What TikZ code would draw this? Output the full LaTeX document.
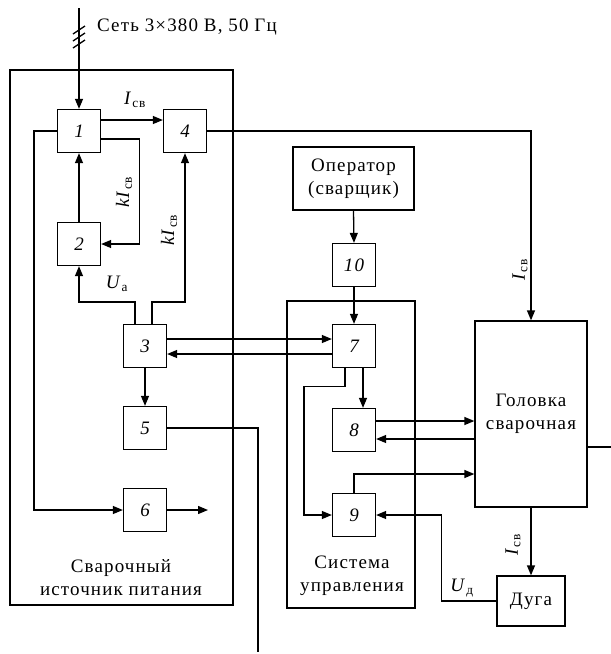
\documentclass[tikz,border=0pt]{standalone}
\usepackage{fontspec}
\setmainfont[LetterSpace=6]{Liberation Serif}
\usetikzlibrary{arrows.meta}

\newcommand{\txtsize}{\fontsize{19}{23}\selectfont}
\tikzset{
  blk/.style={draw, line width=1.3pt, minimum width=43pt, minimum height=43pt,
    inner sep=0pt, font=\txtsize\itshape},
  grp/.style={draw, line width=1.3pt},
  conn/.style={line width=1.3pt},
  arr/.style={conn, -{Triangle[length=10pt,width=8pt]}},
  lbl/.style={inner sep=1pt},
}
\newcommand{\isv}{\textit{I}\textsubscript{св}}
\newcommand{\kisv}{\textit{kI}\textsubscript{св}}

\begin{document}
\begin{tikzpicture}[x=1pt,y=-1pt,font=\txtsize]
      \useasboundingbox[fill=white] (0,0) rectangle (611,654);

      % GROUPS
      \draw[grp] (10,70) rectangle (233,605);
      \draw[grp] (287,301) rectangle (415,608);

      % BLOCKS
      \node[blk] (b1)  at (79,131)  {1};
      \node[blk] (b4)  at (185,131) {4};
      \node[blk] (b2)  at (79,244)  {2};
      \node[blk] (b3)  at (145,346) {3};
      \node[blk] (b5)  at (145,428) {5};
      \node[blk] (b6)  at (145,510) {6};
      \node[blk] (b10) at (354,265) {10};
      \node[blk] (b7)  at (354,346) {7};
      \node[blk] (b8)  at (354,430) {8};
      \node[blk] (b9)  at (354,515) {9};

      \node[grp, minimum width=121pt, minimum height=63pt, align=center,
        inner sep=0pt] (op) at (353.5,178.5) {Оператор\\(сварщик)};
      \node[grp, minimum width=112pt, minimum height=186pt, align=center,
        inner sep=0pt] (head) at (531,414) {Головка\\сварочная};
      \node[grp, minimum width=68pt, minimum height=50pt,
        inner sep=0pt] (arc) at (531,601) {Дуга};

      % free ends
      \coordinate (net)   at (79,8);
      \coordinate (out6)  at (208,510);
      \coordinate (out5)  at (258,652);
      \coordinate (hout)  at (611,447);

      % ARROWS
      \draw[arr] (net) -- (b1.north);
      \foreach \yy in {30,37,44}
        \draw[conn] (73,\yy+4) -- (85,\yy-4);

      \draw[arr] ([yshift=11pt]b1.east) -- ([yshift=11pt]b4.west);
      \draw[arr] ([yshift=-8pt]b1.east) -- ++(38,0) |- (b2.east);
      \draw[arr] (b2.north) -- (b1.south);
      \draw[arr] ([xshift=-10pt]b3.north) -- ++(0,-22) -| (b2.south);
      \draw[arr] ([xshift=7pt]b3.north) -- ++(0,-22) -| (b4.south);
      \draw[arr] (b1.west) -- ++(-23,0) |- (b6.west);
      \draw[arr] (b6.east) -- (out6);
      \draw[arr] (b3.south) -- (b5.north);
      \draw[conn] (b5.east) -| (out5);

      \draw[arr] (b4.east) -| (head.north);
      \draw[arr] ([yshift=7pt]b3.east) -- ([yshift=7pt]b7.west);
      \draw[arr] ([yshift=-8pt]b7.west) -- ([yshift=-8pt]b3.east);

      \draw[arr] (op.south) -- (b10.north);
      \draw[arr] (b10.south) -- (b7.north);
      \draw[arr] ([xshift=9pt]b7.south) -- ([xshift=9pt]b8.north);
      \draw[arr] ([xshift=-9pt]b7.south) -- ++(0,18) -- ++(-41,0) |- (b9.west);

      \draw[arr] ([yshift=9pt]b8.east) -- ([yshift=-7pt]head.west);
      \draw[arr] ([yshift=-25pt]head.west) -- ([yshift=-9pt]b8.east);
      \draw[arr] (b9.north) |- ([yshift=-60pt]head.west);
      \draw[arr] (arc.west) -- ++(-55,0) |- (b9.east);
      \draw[arr] (head.south) -- (arc.north);
      \draw[conn] ([yshift=-33pt]head.east) -- (hout);

      % NOTES
      \node[lbl, anchor=west] (tnet) at (96,27) {Сеть 3×380 В, 50 Гц};
      \node[lbl] (t1) at (135,100) {\isv};
      \node[lbl, rotate=90] (t2) at (124,192) {\kisv};
      \node[lbl, rotate=90] (t3) at (169,230) {\kisv};
      \node[lbl] (t4) at (117,284) {\textit{U}\textsubscript{а}};
      \node[lbl, rotate=90] (t5) at (520,270) {\isv};
      \node[lbl, rotate=90] (t6) at (513,545) {\isv};
      \node[lbl] (t7) at (462,588) {\textit{U}\textsubscript{д}};
      \node[lbl, align=center] (t8) at (121,578) {Сварочный\\источник питания};
      \node[lbl, align=center] (t9) at (352,576) {Система\\управления};
\end{tikzpicture}
\end{document}
